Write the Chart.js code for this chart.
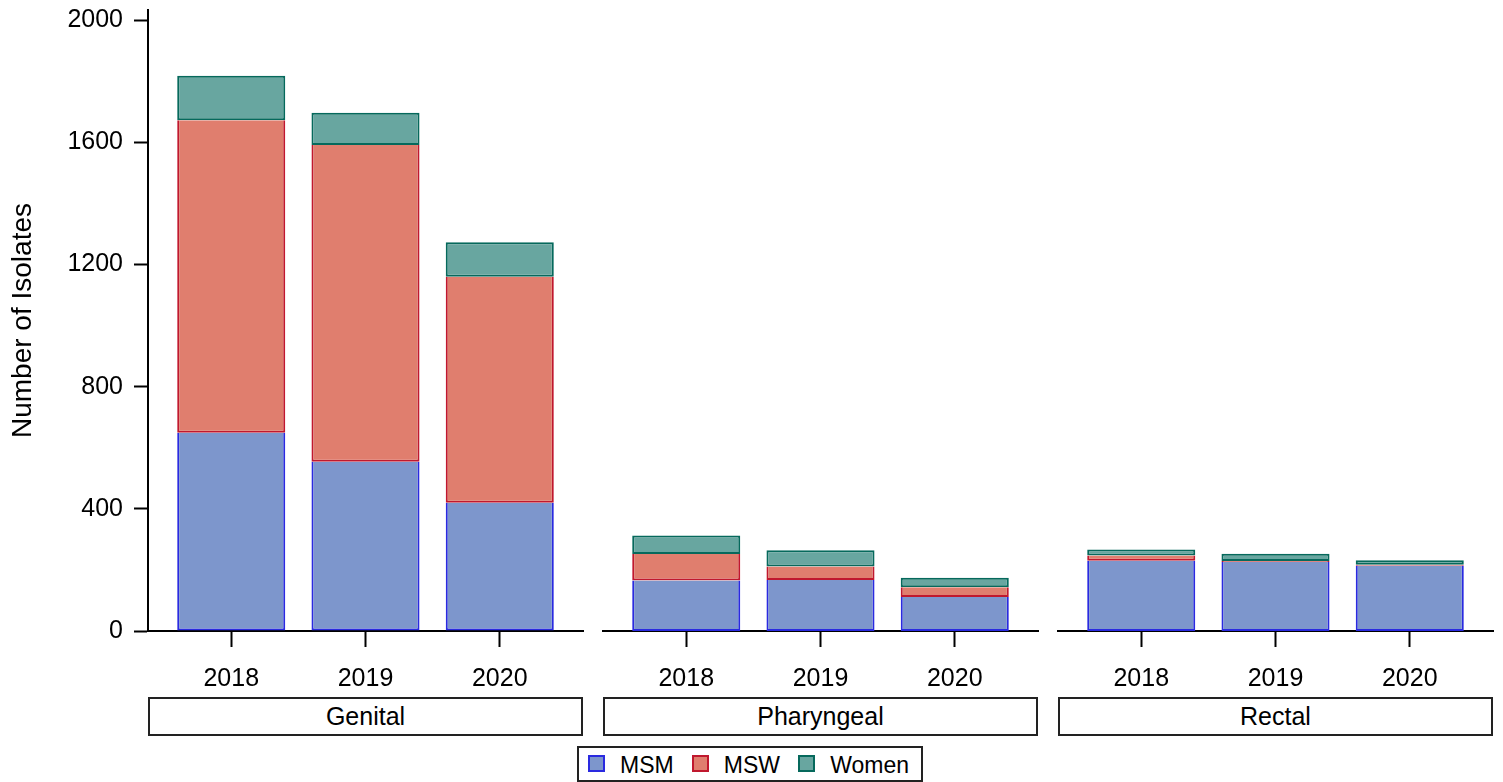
<!DOCTYPE html>
<html>
<head>
<meta charset="utf-8">
<title>Number of Isolates by site</title>
<script src="https://cdn.jsdelivr.net/npm/chart.js@4.4.1/dist/chart.umd.min.js"></script>
<style>
  html, body { margin: 0; padding: 0; background: #fff; }
  body { width: 1503px; height: 782px; position: relative; overflow: hidden;
         font-family: "Liberation Sans", Arial, sans-serif; color: #000; }
  canvas { position: absolute; top: 0; }
  .strip { position: absolute; top: 697px; width: 435px; height: 39px; box-sizing: border-box;
           border: 2px solid #222; font-size: 25px; display: flex; align-items: center; justify-content: center; }
  .legend { position: absolute; left: 577px; top: 746px; width: 346px; height: 36px; box-sizing: border-box;
            border: 2px solid #222; display: flex; align-items: center; justify-content: space-between;
            padding: 0 12px 0 9px; font-size: 23px; }
  .item { display: flex; align-items: center; }
  .item span:last-child { margin-top: 3px; }
  .swatch { width: 17px; height: 17px; box-sizing: border-box; border: 2px solid; margin-right: 15px; margin-top: -1px; }
</style>
</head>
<body>
<script>
// data
const years = ['2018', '2019', '2020'];
const sites = ['Genital', 'Pharyngeal', 'Rectal'];
const groups = ['MSM', 'MSW', 'Women'];
const msm   = [[649, 554, 420], [165, 167, 111], [230, 226, 214]];
const msw   = [[1023, 1037, 740], [87, 44, 32], [17, 3, 3]];
const women = [[146, 106, 113], [61, 53, 31], [20, 24, 15]];
const yTicks = [0, 400, 800, 1200, 1600, 2000];

const fills   = ['#7d96cc', '#e07e6e', '#68a6a0'];
const borders = ['#2a2ae0', '#c0182e', '#06695c'];
const family = '"Liberation Sans", Arial, sans-serif';

// canvas placement for the three panels
const panels = [
  { x: 0,    w: 590, padL: 0, padR: 7, strip: 148 },
  { x: 596,  w: 449, padL: 7, padR: 7, strip: 603 },
  { x: 1051, w: 449, padL: 7, padR: 7, strip: 1058 }
];

function makePanel(p, idx) {
  const canvas = document.createElement('canvas');
  canvas.width = p.w;
  canvas.height = 697;
  canvas.style.left = p.x + 'px';
  document.body.appendChild(canvas);

  const series = [msm, msw, women];
  const showY = idx === 0;

  new Chart(canvas, {
    type: 'bar',
    data: {
      datasets: groups.map((g, k) => ({
        label: g,
        data: series[k][idx].map((v, j) => ({ x: j, y: v })),
        backgroundColor: fills[k],
        borderColor: borders[k],
        borderWidth: 2,
        borderSkipped: k === groups.length - 1 ? false : 'end',
        categoryPercentage: 1,
        barPercentage: 0.805
      }))
    },
    options: {
      responsive: false,
      animation: false,
      devicePixelRatio: 1,
      layout: { padding: { top: 10, left: p.padL, right: p.padR, bottom: 0 } },
      plugins: { legend: { display: false }, tooltip: { enabled: false } },
      scales: {
        x: {
          type: 'linear', min: -0.62, max: 2.62, stacked: true, bounds: 'data', offset: false,
          grid: { offset: false, drawOnChartArea: false, drawTicks: true, tickLength: 16, tickColor: '#000', tickWidth: 2 },
          border: { display: true, color: '#000', width: 2 },
          ticks: { color: '#000', font: { size: 25, family }, padding: 17, maxRotation: 0, autoSkip: false,
                   callback: v => years[v] },
          afterBuildTicks: s => { s.ticks = years.map((y, j) => ({ value: j })); },
          afterFit: s => { s.height = 66; s.paddingLeft = 0; s.paddingRight = 0; }
        },
        y: {
          display: showY,
          min: 0, max: 2033, stacked: true, bounds: 'data',
          grid: { drawOnChartArea: false, drawTicks: true, tickLength: 14, tickColor: '#000', tickWidth: 2 },
          border: { display: true, color: '#000', width: 2 },
          ticks: { color: '#000', font: { size: 25, family }, padding: 11, callback: v => String(v) },
          afterBuildTicks: s => { s.ticks = yTicks.map(v => ({ value: v })); },
          title: { display: true, text: 'Number of Isolates', color: '#000',
                   font: { size: 28, family }, padding: { top: 6, bottom: 0 } },
          afterFit: s => { s.width = showY ? 148 : 0; s.paddingTop = 0; s.paddingBottom = 0; }
        }
      }
    }
  });

  const strip = document.createElement('div');
  strip.className = 'strip';
  strip.style.left = p.strip + 'px';
  strip.textContent = sites[idx];
  document.body.appendChild(strip);
}

panels.forEach(makePanel);

// legend under the panels
const legend = document.createElement('div');
legend.className = 'legend';
groups.forEach((g, k) => {
  const item = document.createElement('div');
  item.className = 'item';
  const sw = document.createElement('span');
  sw.className = 'swatch';
  sw.style.background = fills[k];
  sw.style.borderColor = borders[k];
  const txt = document.createElement('span');
  txt.textContent = g;
  item.appendChild(sw);
  item.appendChild(txt);
  legend.appendChild(item);
});
document.body.appendChild(legend);
</script>
</body>
</html>
